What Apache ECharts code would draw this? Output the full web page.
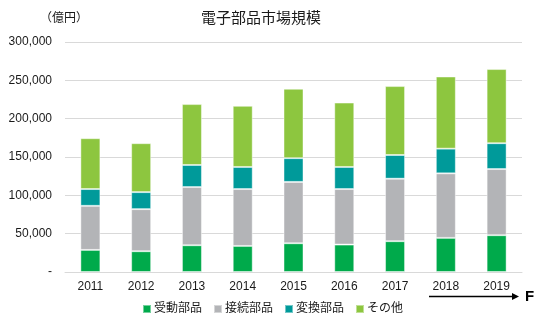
<!DOCTYPE html>
<html><head><meta charset="utf-8">
<script src="https://cdn.jsdelivr.net/npm/echarts@6/dist/echarts.min.js"></script>
<style>html,body{margin:0;padding:0;background:#fff}#c{width:545px;height:326px}</style>
</head><body><div id="c"></div>
<script>
const categories = ['2011','2012','2013','2014','2015','2016','2017','2018','2019'];
const seriesNames = ['受動部品','接続部品','変換部品','その他'];
const passive   = [28800, 27100, 34900, 34000, 37500, 35800, 40200, 44500, 48000];
const connector = [57500, 54900, 75900, 74200, 80000, 72400, 81500, 84200, 86300];
const converter = [21900, 22200, 28800, 28800, 31000, 28800, 30900, 32200, 33700];
const others    = [66300, 63800, 79400, 79700, 90500, 84000, 89900, 94100, 96700];
const colors = ['#00AA4B','#B3B4B7','#009A9A','#8DC63F'];
const font = '"Liberation Sans", Arial, "Noto Sans CJK JP", sans-serif';

const chart = echarts.init(document.getElementById('c'));
const dataSets = [passive, connector, converter, others];
chart.setOption({
  animation: false,
  title: {
    text: '電子部品市場規模', left: 256, top: 6, textAlign: 'center',
    textStyle: { fontFamily: font, fontSize: 15, fontWeight: 'normal', color: '#1a1a1a' }
  },
  grid: { left: 65, right: 23, top: 42, bottom: 54 },
  legend: {
    data: seriesNames, bottom: 6, left: 'center', itemWidth: 8, itemHeight: 8, itemGap: 11,
    icon: 'rect',
    textStyle: { fontFamily: font, fontSize: 12, color: '#1a1a1a', padding: [0,0,0,-2] }
  },
  xAxis: {
    type: 'category', data: categories,
    axisTick: { show: false },
    axisLine: { lineStyle: { color: '#d9d9d9', width: 1 } },
    axisLabel: { fontFamily: font, fontSize: 12, color: '#1a1a1a', margin: 9 }
  },
  yAxis: {
    type: 'value', min: 0, max: 300000, interval: 50000,
    axisLine: { show: false }, axisTick: { show: false },
    splitLine: { lineStyle: { color: '#d9d9d9', width: 1 } },
    axisLabel: {
      fontFamily: font, fontSize: 12, color: '#1a1a1a', margin: 13,
      formatter: v => v === 0 ? '-' : v.toLocaleString('en-US')
    }
  },
  series: seriesNames.map((n, i) => ({
    name: n, type: 'bar', stack: 'total', data: dataSets[i], barWidth: 20,
    itemStyle: { color: colors[i], borderColor: 'rgba(255,255,255,0.45)', borderWidth: 1 }
  })),
  graphic: [
    { type: 'text', left: 40, top: 13, style: { text: '（億円）', font: '12px ' + font, fill: '#1a1a1a' } },
    { type: 'line', shape: { x1: 429, y1: 296.5, x2: 513, y2: 296.5 }, style: { stroke: '#000', lineWidth: 1.5 } },
    { type: 'polygon', shape: { points: [[512,293],[519,296.5],[512,300]] }, style: { fill: '#000' } },
    { type: 'text', left: 525, top: 289, style: { text: 'F', font: 'bold 15px ' + font, fill: '#000' } }
  ]
});
</script></body></html>
